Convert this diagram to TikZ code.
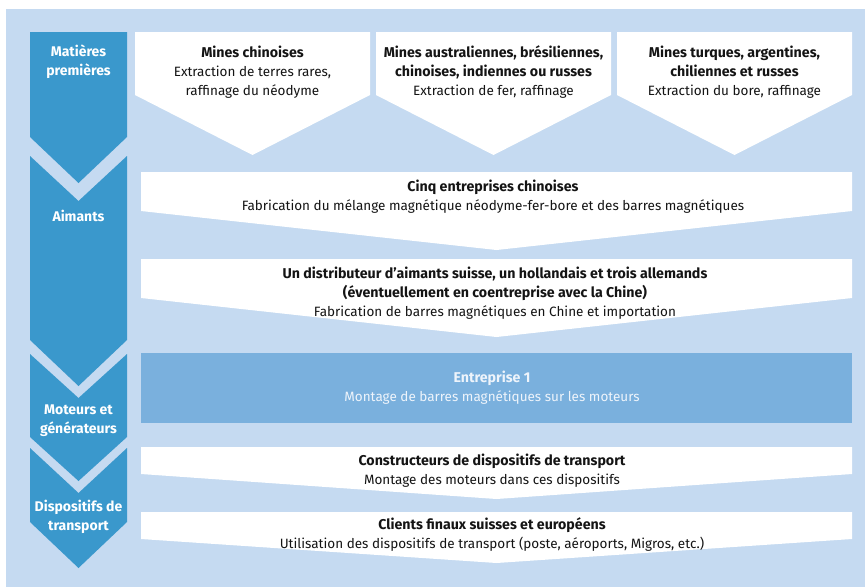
\documentclass[tikz,border=0pt]{standalone}
\usepackage{fontspec}
\setmainfont{Fira Sans}
\definecolor{bgblue}{RGB}{197,218,241}
\definecolor{chevblue}{RGB}{58,152,204}
\definecolor{midblue}{RGB}{122,176,221}
\definecolor{inktext}{RGB}{20,20,20}
\definecolor{paletext}{RGB}{238,244,251}
\newcommand\hd[1]{{\fontsize{14.2}{19}\selectfont\bfseries #1}}
\tikzset{
  chev/.style={fill=chevblue},
  panel/.style={fill=white},
  stagelabel/.style={text=white, font=\fontsize{14}{19}\selectfont\bfseries, align=center, inner sep=0pt},
  boxtext/.style={text=inktext, font=\fontsize{13.5}{19}\selectfont, align=center, inner sep=0pt},
}
\begin{document}
\begin{tikzpicture}[x=1pt,y=-1pt]
\useasboundingbox (0,0) rectangle (865,587);
% background
\fill[bgblue] (6,9) rectangle (865,587);

% stage chevrons on the left
\fill[chev] (30,32) -- (127,32) -- (127,137) -- (78.5,183) -- (30,137) -- cycle;
\fill[chev] (30,156) -- (78.5,201) -- (127,156) -- (127,340) -- (78.5,386) -- (30,340) -- cycle;
\fill[chev] (30,354) -- (78.5,398) -- (127,354) -- (127,437) -- (78.5,481) -- (30,437) -- cycle;
\fill[chev] (30,448) -- (78.5,493) -- (127,448) -- (127,522) -- (78.5,568) -- (30,522) -- cycle;

\node[stagelabel] (s1) at (78.5,62) {Matières\\premières};
\node[stagelabel] (s2) at (78.5,216) {Aimants};
\node[stagelabel] (s3) at (78.5,421) {Moteurs et\\générateurs};
\node[stagelabel] (s4) at (78.5,517) {Dispositifs de\\transport};

% raw material panels
\fill[panel] (135,32) -- (370,32) -- (370,95) -- (252.5,155) -- (135,95) -- cycle;
\fill[panel] (376,32) -- (611,32) -- (611,95) -- (493.5,155) -- (376,95) -- cycle;
\fill[panel] (617,32) -- (852,32) -- (852,95) -- (734.5,155) -- (617,95) -- cycle;

\node[boxtext] (p1) at (252.5,72) {\hd{Mines chinoises}\\Extraction de terres rares,\\raffinage du néodyme};
\node[boxtext] (p2) at (493.5,72) {\hd{Mines australiennes, brésiliennes,}\\\hd{chinoises, indiennes ou russes}\\Extraction de fer, raffinage};
\node[boxtext] (p3) at (734.5,72) {\hd{Mines turques, argentines,}\\\hd{chiliennes et russes}\\Extraction du bore, raffinage};

% magnet stage
\fill[panel] (141,172) -- (852,172) -- (852,211) -- (496.5,250) -- (141,211) -- cycle;
\fill[panel] (141,259) -- (852,259) -- (852,298) -- (496.5,337) -- (141,298) -- cycle;
\node[boxtext] (m1) at (493,197) {\hd{Cinq entreprises chinoises}\\Fabrication du mélange magnétique néodyme-fer-bore et des barres magnétiques};
\node[boxtext] (m2) at (495,293) {\hd{Un distributeur d’aimants suisse, un hollandais et trois allemands}\\\hd{(éventuellement en coentreprise avec la Chine)}\\Fabrication de barres magnétiques en Chine et importation};

% motor stage
\fill[midblue] (141,353) rectangle (852,423);
\node[boxtext, text=paletext] (e1) at (492,388) {\hd{Entreprise 1}\\Montage de barres magnétiques sur les moteurs};

% transport stage
\fill[panel] (141,447) -- (852,447) -- (852,474) -- (496.5,499) -- (141,474) -- cycle;
\fill[panel] (141,512) -- (852,512) -- (852,539) -- (496.5,563) -- (141,539) -- cycle;
\node[boxtext] (t1) at (492,471) {\hd{Constructeurs de dispositifs de transport}\\Montage des moteurs dans ces dispositifs};
\node[boxtext] (t2) at (492,534) {\hd{Clients finaux suisses et européens}\\Utilisation des dispositifs de transport (poste, aéroports, Migros, etc.)};
\end{tikzpicture}
\end{document}
